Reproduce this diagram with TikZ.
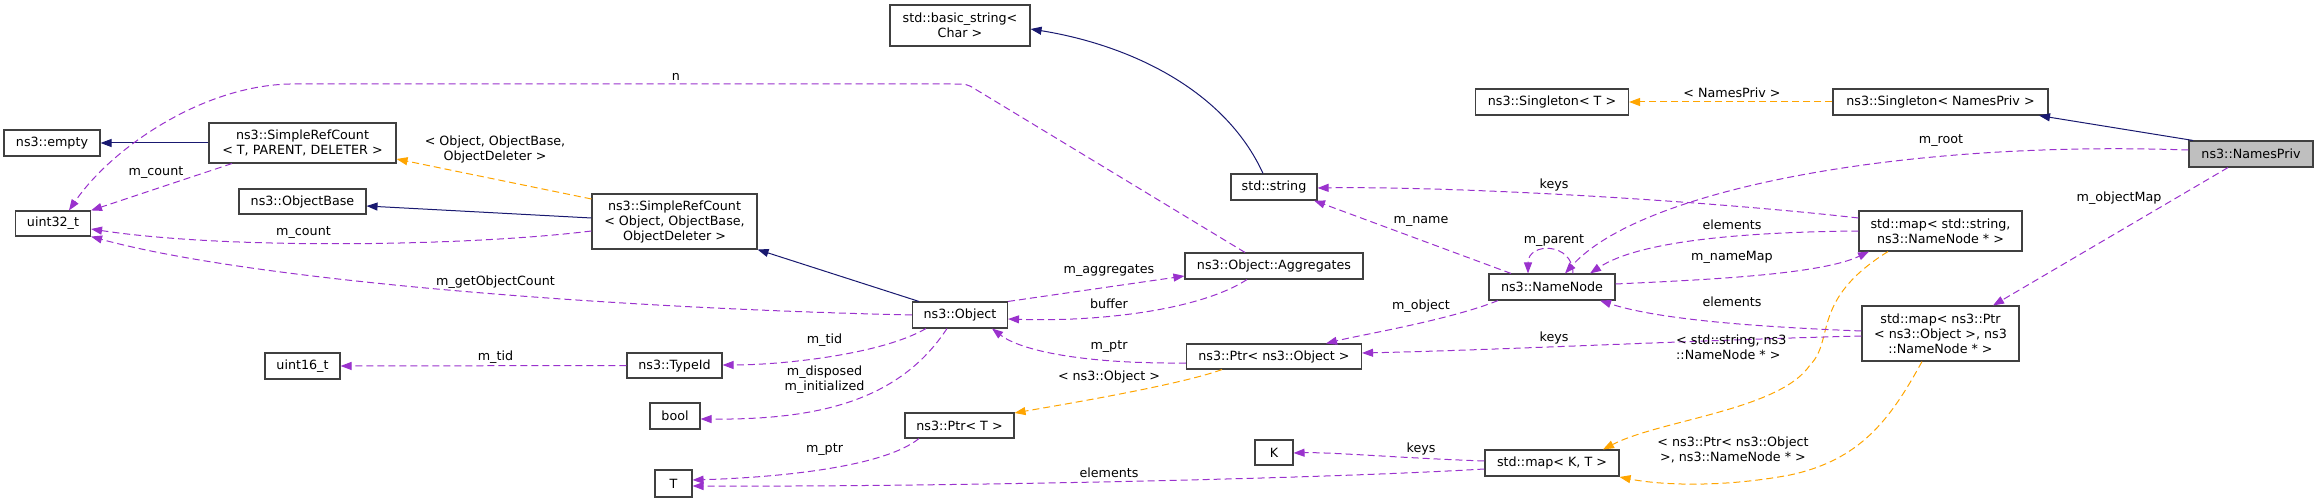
\documentclass[tikz,border=0pt]{standalone}
\usepackage{fontspec}
\setmainfont{DejaVu Sans}
\usetikzlibrary{arrows.meta}
\definecolor{purp}{HTML}{9A32CD}
\definecolor{orng}{HTML}{FFA500}
\definecolor{navyc}{HTML}{191970}
\definecolor{privfill}{HTML}{BFBFBF}
\begin{document}
\begin{tikzpicture}[x=1pt,y=-1pt,
  box/.style={draw=black!75, line width=1.1pt, fill=white, inner sep=0pt, align=center, font=\fontsize{12.7}{15}\selectfont},
  lbl/.style={inner sep=0pt, align=center, font=\fontsize{12.7}{15}\selectfont},
  usedge/.style={draw=purp, line width=1pt, dash pattern=on 7pt off 4pt, -{Triangle[length=11pt,width=8pt]}},
  tmpledge/.style={draw=orng, line width=1pt, dash pattern=on 7pt off 4pt, -{Triangle[length=11pt,width=8pt]}},
  inhedge/.style={draw=navyc, line width=1pt, -{Triangle[length=11pt,width=8pt]}}]
\useasboundingbox (0,0) rectangle (2319,502);

% nodes
\node[box, minimum width=96pt, minimum height=26pt] (empty) at (52,143) {ns3::empty};
\node[box, minimum width=187pt, minimum height=40pt] (srcT) at (302.5,143) {ns3::SimpleRefCount\\< T, PARENT, DELETER >};
\node[box, minimum width=75pt, minimum height=25pt] (u32) at (53,223.5) {uint32\_t};
\node[box, minimum width=127pt, minimum height=25pt] (objbase) at (302.5,201.5) {ns3::ObjectBase};
\node[box, minimum width=165pt, minimum height=55pt] (srcO) at (674.5,221.5) {ns3::SimpleRefCount\\< Object, ObjectBase,\\ObjectDeleter >};
\node[box, minimum width=75pt, minimum height=26pt] (u16) at (302.5,366) {uint16\_t};
\node[box, minimum width=95pt, minimum height=25pt] (typeid) at (674.5,365.5) {ns3::TypeId};
\node[box, minimum width=50pt, minimum height=26pt] (bool) at (675,416) {bool};
\node[box, minimum width=37pt, minimum height=27pt] (T) at (673.5,483.5) {T};
\node[box, minimum width=140pt, minimum height=41pt] (basic) at (960,25.5) {std::basic\_string<\\Char >};
\node[box, minimum width=86pt, minimum height=26pt] (string) at (1274,187) {std::string};
\node[box, minimum width=95pt, minimum height=26pt] (object) at (960,315) {ns3::Object};
\node[box, minimum width=178pt, minimum height=26pt] (aggr) at (1274,266) {ns3::Object::Aggregates};
\node[box, minimum width=175pt, minimum height=25pt] (ptrO) at (1274,356.5) {ns3::Ptr< ns3::Object >};
\node[box, minimum width=109pt, minimum height=25pt] (ptrT) at (959.5,425.5) {ns3::Ptr< T >};
\node[box, minimum width=38pt, minimum height=25pt] (K) at (1274,452.5) {K};
\node[box, minimum width=153pt, minimum height=26pt] (singT) at (1552,102) {ns3::Singleton< T >};
\node[box, minimum width=126pt, minimum height=26pt] (namenode) at (1552,287) {ns3::NameNode};
\node[box, minimum width=134pt, minimum height=26pt] (mapKT) at (1552,463) {std::map< K, T >};
\node[box, minimum width=215pt, minimum height=26pt] (singN) at (1940.5,102) {ns3::Singleton< NamesPriv >};
\node[box, minimum width=163pt, minimum height=40pt] (mapS) at (1940.5,231) {std::map< std::string,\\ns3::NameNode * >};
\node[box, minimum width=157pt, minimum height=55pt] (mapP) at (1940.5,333.5) {std::map< ns3::Ptr\\< ns3::Object >, ns3\\::NameNode * >};
\node[box, fill=privfill, minimum width=124pt, minimum height=26pt] (namespriv) at (2251,154) {ns3::NamesPriv};

% inheritance
\draw[inhedge] (srcT.west) -- (empty.east);
\draw[inhedge] (srcO.west |- 0,218) -- (objbase.east |- 0,206);
\draw[inhedge] (string.north -| 1263,0) .. controls (1225,90) and (1130,45) .. (basic.east |- 0,29);
\draw[inhedge] (object.north -| 919,0) -- (srcO.south east);
\draw[inhedge] (namespriv.north -| 2193,0) -- (singN.south -| 2039,0);

% template instantiation
\draw[tmpledge] (srcO.west |- 0,199) -- (srcT.east |- 0,159);
\draw[tmpledge] (ptrO.south -| 1222,0) .. controls (1180,385) and (1060,405) .. (ptrT.east |- 0,413);
\draw[tmpledge] (singN.west) -- (singT.east);
\draw[tmpledge] (mapS.south -| 1888,0) .. controls (1810,300) and (1835,340) .. (1810,365) .. controls (1780,410) and (1660,420) .. (mapKT.north -| 1603,0);
\draw[tmpledge] (mapP.south -| 1922,0) .. controls (1890,420) and (1860,460) .. (1790,475) .. controls (1720,488) and (1660,485) .. (mapKT.east |- 0,477);

% usage
\draw[usedge] (srcO.west |- 0,231) .. controls (470,246) and (230,250) .. (u32.east |- 0,229);
\draw[usedge] (srcT.south -| 232,0) -- (u32.north east);
\draw[usedge] (object.west) .. controls (600,308) and (250,280) .. (u32.south east);
\draw[usedge] (aggr.north -| 1245,0) -- (975,89) .. controls (967,84) .. (950,84) -- (290,84) .. controls (200,86) and (110,150) .. (u32.north -| 69,0);
\draw[usedge] (object.north east) -- (aggr.west |- 0,276);
\draw[usedge] (aggr.south -| 1247,0) .. controls (1200,310) and (1100,322) .. (object.east |- 0,319);
\draw[usedge] (object.south -| 926,0) .. controls (880,355) and (780,365) .. (typeid.east |- 0,365);
\draw[usedge] (object.south -| 947,0) .. controls (900,400) and (820,420) .. (bool.east |- 0,419);
\draw[usedge] (ptrO.west |- 0,363) .. controls (1080,364) and (1020,350) .. (object.south -| 992,0);
\draw[usedge] (ptrT.south -| 919,0) .. controls (880,470) and (760,478) .. (T.east |- 0,480);
\draw[usedge] (mapKT.west |- 0,469) .. controls (1300,480) and (900,487) .. (T.east |- 0,486);
\draw[usedge] (mapKT.west |- 0,461) .. controls (1400,458) and (1330,452) .. (K.east |- 0,453);
\draw[usedge] (typeid.west) -- (u16.east);
\draw[usedge] (namespriv.west |- 0,150) .. controls (1900,140) and (1640,190) .. (namenode.north -| 1565,0);
\draw[usedge] (mapS.west |- 0,218) .. controls (1700,200) and (1450,186) .. (string.east |- 0,188);
\draw[usedge] (namenode.north -| 1511,0) -- (string.south -| 1314,0);
\draw[usedge] (namenode.north -| 1573,0) .. controls (1573,242) and (1528,242) .. (namenode.north -| 1528,0);
\draw[usedge] (mapS.west |- 0,231) .. controls (1750,232) and (1640,240) .. (namenode.north -| 1590,0);
\draw[usedge] (namenode.east |- 0,284) .. controls (1700,280) and (1820,275) .. (mapS.south -| 1869,0);
\draw[usedge] (namespriv.south -| 2228,0) -- (mapP.north -| 1993,0);
\draw[usedge] (mapP.west |- 0,331) .. controls (1760,327) and (1660,320) .. (namenode.south -| 1600,0);
\draw[usedge] (mapP.west |- 0,336) .. controls (1700,340) and (1500,350) .. (ptrO.east |- 0,353);
\draw[usedge] (namenode.south -| 1498,0) .. controls (1450,320) and (1360,335) .. (ptrO.north -| 1326,0);

% labels
\node[lbl] (l1) at (495,149) {< Object, ObjectBase,\\ObjectDeleter >};
\node[lbl] (l2) at (156,173) {m\_count};
\node[lbl] (l3) at (303.5,233) {m\_count};
\node[lbl] (l4) at (495.5,282) {m\_getObjectCount};
\node[lbl] (l5) at (676,77) {n};
\node[lbl] (l6) at (495.5,357) {m\_tid};
\node[lbl] (l7) at (824.5,340) {m\_tid};
\node[lbl] (l8) at (824.5,380) {m\_disposed\\m\_initialized};
\node[lbl] (l9) at (824.5,450) {m\_ptr};
\node[lbl] (l10) at (1109,271) {m\_aggregates};
\node[lbl] (l11) at (1109,304) {buffer};
\node[lbl] (l12) at (1109,347) {m\_ptr};
\node[lbl] (l13) at (1109,377) {< ns3::Object >};
\node[lbl] (l14) at (1109,473) {elements};
\node[lbl] (l15) at (1732,93) {< NamesPriv >};
\node[lbl] (l16) at (1941,141) {m\_root};
\node[lbl] (l17) at (1554,185) {keys};
\node[lbl] (l18) at (1421,221) {m\_name};
\node[lbl] (l19) at (1554,241) {m\_parent};
\node[lbl] (l20) at (1732,225) {elements};
\node[lbl] (l21) at (1732,257) {m\_nameMap};
\node[lbl] (l22) at (2119,198) {m\_objectMap};
\node[lbl] (l23) at (1732,302) {elements};
\node[lbl] (l24) at (1554,338) {keys};
\node[lbl] (l25) at (1421,306) {m\_object};
\node[lbl, anchor=west, align=left] (l26) at (1676,347) {< std::string, ns3\\::NameNode * >};
\node[lbl] (l27) at (1733,450) {< ns3::Ptr< ns3::Object\\>, ns3::NameNode * >};
\node[lbl] (l28) at (1421,449) {keys};
\end{tikzpicture}
\end{document}
